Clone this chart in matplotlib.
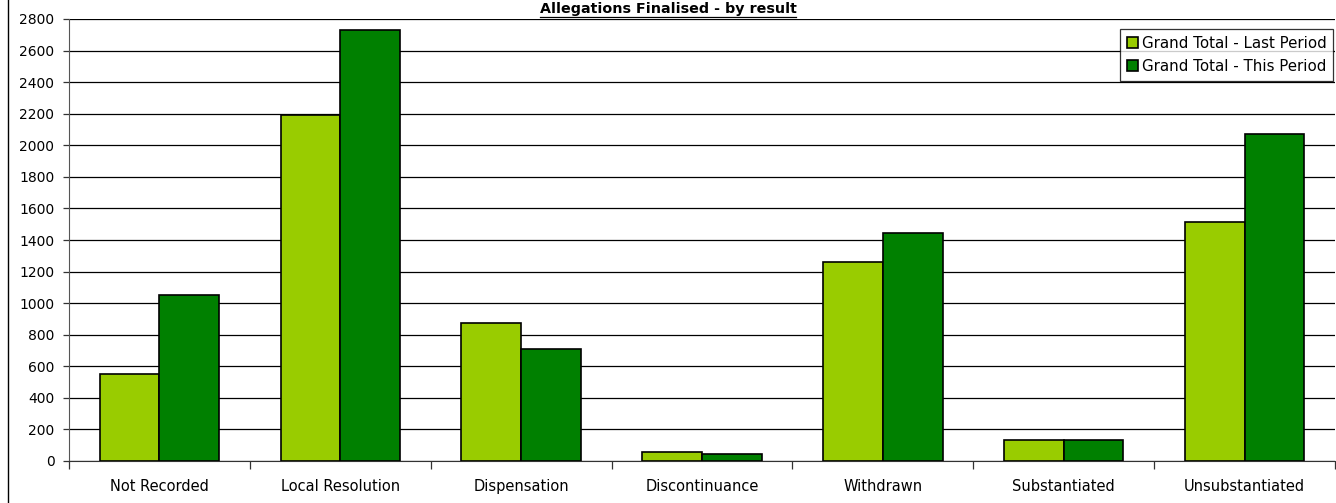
import matplotlib
matplotlib.use('Agg')
import matplotlib.pyplot as plt
import numpy as np
from matplotlib.lines import Line2D

# Data
categories = ['Not Recorded', 'Local Resolution', 'Dispensation', 'Discontinuance',
              'Withdrawn', 'Substantiated', 'Unsubstantiated']
last_period = [554, 2190, 872, 57, 1263, 130, 1514]
this_period = [1052, 2729, 712, 47, 1442, 130, 2071]
series_names = ['Grand Total - Last Period', 'Grand Total - This Period']
colors = ['#99CC00', '#008000']

W, H = 1336, 503
fig = plt.figure(figsize=(W / 100, H / 100), dpi=100)
ax = fig.add_axes([69 / W, 1 - 461 / H, (1335 - 69) / W, (461 - 19) / H])

x = np.arange(len(categories))
bw = 0.33
ax.bar(x - bw / 2, last_period, bw, color=colors[0], edgecolor='black', linewidth=1.2,
       label=series_names[0], zorder=3)
ax.bar(x + bw / 2, this_period, bw, color=colors[1], edgecolor='black', linewidth=1.2,
       label=series_names[1], zorder=3)

ax.set_xlim(-0.5, len(categories) - 0.5)
ax.set_ylim(0, 2800)
ax.set_yticks(np.arange(0, 2801, 200))
ax.yaxis.grid(True, color='black', linewidth=0.9, zorder=0)
ax.set_axisbelow(True)

# category labels centred, tick marks at boundaries
ax.set_xticks(x)
ax.set_xticklabels(categories, fontsize=10.5)
ax.tick_params(axis='x', which='major', length=0, pad=13)
ax.set_xticks(np.arange(-0.5, len(categories)), minor=True)
ax.tick_params(axis='x', which='minor', length=6, width=0.9, color='#333333', direction='out')
ax.tick_params(axis='y', length=4.5, width=0.9, color='#333333', labelsize=10, pad=6)

for s in ['top', 'right']:
    ax.spines[s].set_visible(False)
ax.spines['left'].set_color('#555555')
ax.spines['bottom'].set_color('#333333')

leg = ax.legend(loc='upper right', bbox_to_anchor=(1333 / W, 1 - 29 / H),
                bbox_transform=fig.transFigure, fontsize=10.8, frameon=True,
                fancybox=False, edgecolor='black', handlelength=0.75, handleheight=0.75,
                handletextpad=0.25, borderpad=0.45, labelspacing=0.55, borderaxespad=0)
leg.get_frame().set_linewidth(0.9)
for h in leg.legend_handles:
    h.set_edgecolor('black')

# title with underline
title = fig.text(668 / W, 1 - 9 / H, 'Allegations Finalised - by result', ha='center',
                 va='center', fontsize=10.3, fontweight='bold')
fig.canvas.draw()
bb = title.get_window_extent().transformed(fig.transFigure.inverted())
fig.add_artist(Line2D([bb.x0, bb.x1], [bb.y0 - 1 / H, bb.y0 - 1 / H], color='black',
                      linewidth=0.9, transform=fig.transFigure))

# outer chart border on the left
fig.add_artist(Line2D([8 / W, 8 / W], [0, 1], color='black', linewidth=1,
                      transform=fig.transFigure))

fig.savefig('out.png', dpi=100)
